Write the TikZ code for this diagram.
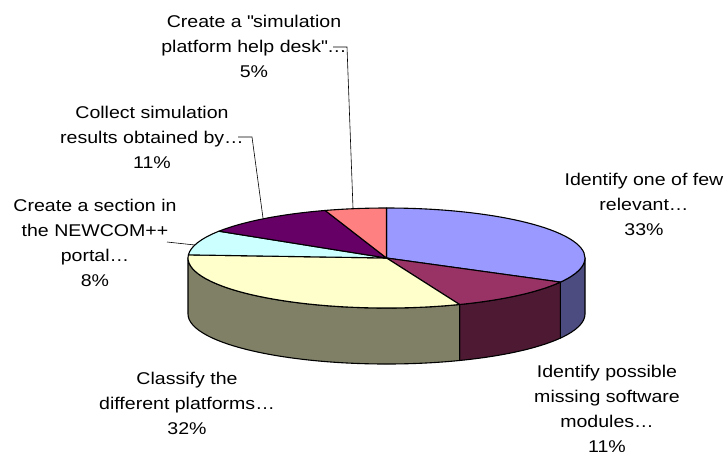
\documentclass[tikz,border=0pt]{standalone}
\usepackage{fontspec}
\setmainfont{Liberation Sans}[FakeStretch=1.15]
\definecolor{tblue}{HTML}{9999FF}
\definecolor{bside}{HTML}{4C4C80}
\definecolor{tmag}{HTML}{993366}
\definecolor{mside}{HTML}{4D1933}
\definecolor{tyel}{HTML}{FFFFCC}
\definecolor{yside}{HTML}{808066}
\definecolor{tcyan}{HTML}{CCFFFF}
\definecolor{tpur}{HTML}{660066}
\definecolor{tsal}{HTML}{FF8080}
\begin{document}
\begin{tikzpicture}[x=1pt,y=1pt,
  lbl/.style={font=\fontsize{17}{25}\selectfont, align=center, inner sep=0pt},
  edge/.style={line width=1.1pt, line join=round},
  leader/.style={line width=0.6pt}]
\useasboundingbox (0,0) rectangle (725,-456);
\def\rx{198.5}\def\ry{50}\def\dp{56}
\begin{scope}[shift={(386.5,-258)}]
\coordinate (c) at (0,0);
% side faces
\filldraw[edge,fill=bside] ({\rx*cos(-28.8)},{\ry*sin(-28.8)}) arc[start angle=-28.8,end angle=0,x radius=\rx,y radius=\ry] -- ++(0,-\dp) arc[start angle=0,end angle=-28.8,x radius=\rx,y radius=\ry] -- cycle;
\filldraw[edge,fill=mside] ({\rx*cos(-68.4)},{\ry*sin(-68.4)}) arc[start angle=-68.4,end angle=-28.8,x radius=\rx,y radius=\ry] -- ++(0,-\dp) arc[start angle=-28.8,end angle=-68.4,x radius=\rx,y radius=\ry] -- cycle;
\filldraw[edge,fill=yside] ({\rx*cos(-180)},{\ry*sin(-180)}) arc[start angle=-180,end angle=-68.4,x radius=\rx,y radius=\ry] -- ++(0,-\dp) arc[start angle=-68.4,end angle=-180,x radius=\rx,y radius=\ry] -- cycle;
% top faces
\filldraw[edge,fill=tblue] (c) -- ({\rx*cos(90)},{\ry*sin(90)}) arc[start angle=90,end angle=-28.8,x radius=\rx,y radius=\ry] -- cycle;
\filldraw[edge,fill=tmag] (c) -- ({\rx*cos(-28.8)},{\ry*sin(-28.8)}) arc[start angle=-28.8,end angle=-68.4,x radius=\rx,y radius=\ry] -- cycle;
\filldraw[edge,fill=tyel] (c) -- ({\rx*cos(-68.4)},{\ry*sin(-68.4)}) arc[start angle=-68.4,end angle=-183.6,x radius=\rx,y radius=\ry] -- cycle;
\filldraw[edge,fill=tcyan] (c) -- ({\rx*cos(176.4)},{\ry*sin(176.4)}) arc[start angle=176.4,end angle=147.6,x radius=\rx,y radius=\ry] -- cycle;
\filldraw[edge,fill=tpur] (c) -- ({\rx*cos(147.6)},{\ry*sin(147.6)}) arc[start angle=147.6,end angle=108,x radius=\rx,y radius=\ry] -- cycle;
\filldraw[edge,fill=tsal] (c) -- ({\rx*cos(108)},{\ry*sin(108)}) arc[start angle=108,end angle=90,x radius=\rx,y radius=\ry] -- cycle;
\end{scope}
% labels
\node[lbl] (lblue) at (644,-204) {Identify one of few\\relevant…\\33\%};
\node[lbl] (lmag) at (607,-409) {Identify possible\\missing software\\modules…\\11\%};
\node[lbl] (lyel) at (187,-403) {Classify the\\different platforms…\\32\%};
\node[lbl] (lcyan) at (95,-243) {Create a section in\\the NEWCOM++\\portal…\\8\%};
\node[lbl] (lpur) at (152,-137) {Collect simulation\\results obtained by…\\11\%};
\node[lbl] (lsal) at (254,-46) {Create a \textquotedbl simulation\\platform help desk\textquotedbl …\\5\%};
% leaders
\coordinate (p1) at (238,-137);
\coordinate (p2) at (252,-137);
\coordinate (p3) at (263,-218);
\coordinate (s1) at (333,-47);
\coordinate (s2) at (347,-47);
\coordinate (s3) at (353,-208);
\coordinate (k1) at (167,-242);
\coordinate (k2) at (195,-245);
\draw[leader] (p1) -- (p2) -- (p3);
\draw[leader] (s1) -- (s2) -- (s3);
\draw[leader] (k1) -- (k2);
\end{tikzpicture}
\end{document}
